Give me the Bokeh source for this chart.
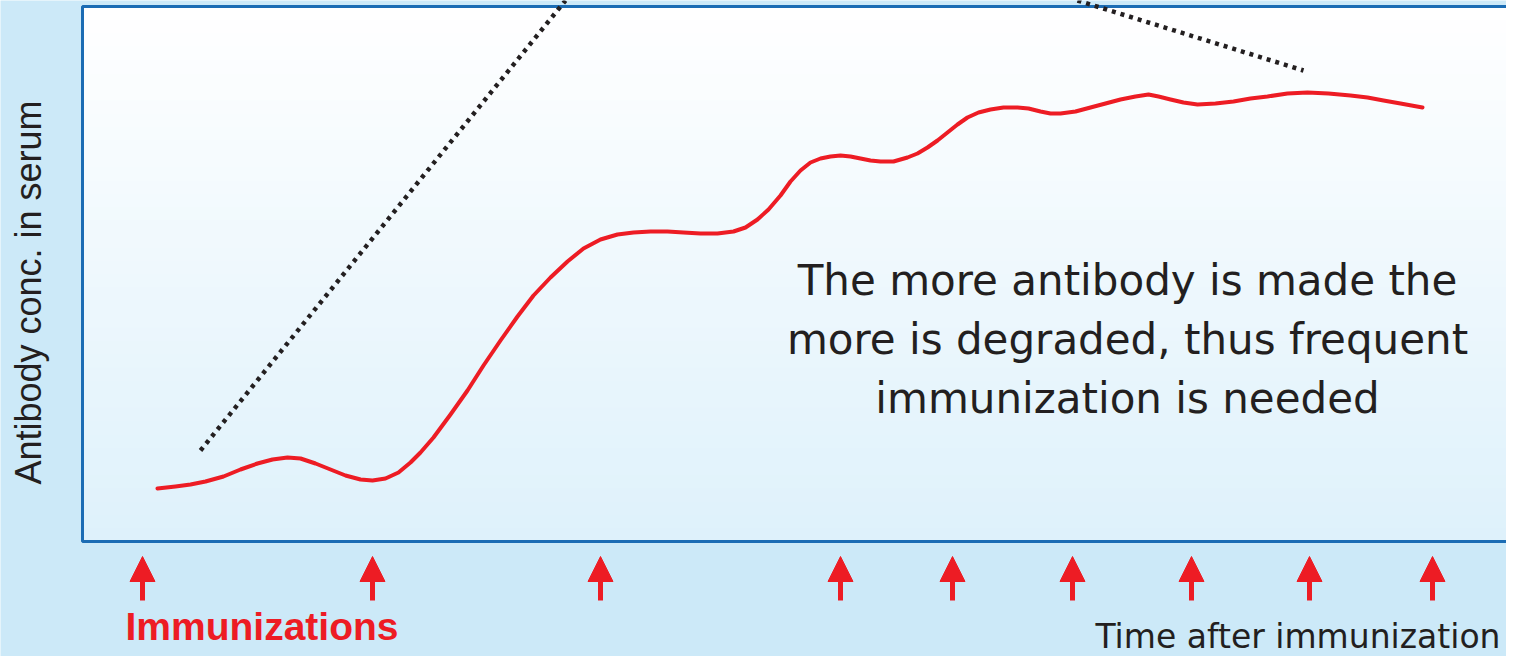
import numpy as np
from bokeh.plotting import figure
from bokeh.models import Range1d, Arrow, NormalHead, ColumnDataSource
from bokeh.core.properties import value
from bokeh.embed import file_html
from bokeh.resources import INLINE

# ---- data (time in chart units; concentration in chart units, 0 = frame bottom) ----
time = [157, 175, 190, 205, 223, 240, 257, 272, 287, 300, 315, 330, 345, 360, 372,
        385, 398, 410, 420, 433, 450, 467, 483, 500, 517, 533, 550, 567, 583, 600,
        617, 633, 650, 667, 683, 700, 717, 733, 745, 757, 768, 780, 790, 800, 810,
        820, 830, 840, 850, 860, 870, 880, 893, 907, 917, 927, 937, 947, 957, 967,
        978, 990, 1003, 1017, 1028, 1040, 1050, 1060, 1075, 1090, 1105, 1120, 1135,
        1148, 1158, 1170, 1183, 1197, 1215, 1233, 1250, 1267, 1287, 1307, 1328, 1350,
        1367, 1383, 1400, 1422]
y_ref = [488, 486, 484, 481, 476, 469, 463, 459, 457, 458, 463, 469, 475, 479, 480,
         478, 472, 462, 452, 437, 414, 390, 365, 340, 316, 295, 277, 261, 248, 239,
         234, 232, 231, 231, 232, 233, 233, 231, 227, 219, 209, 195, 181, 170, 162,
         158, 156, 155, 156, 158, 160, 161, 161, 157, 153, 147, 140, 132, 124, 117,
         112, 109, 107, 107, 108, 111, 113, 113, 111, 107, 103, 99, 96,
         94, 96, 99, 102, 104, 103, 101, 98, 96, 93, 92, 93, 95,
         97, 100, 103, 107]
conc = [542 - v for v in y_ref]

synth_time = [200, 565]
synth_conc = [92, 542]
decay_time = [1077, 1303]
decay_conc = [542, 472]

immunization_times = [142, 372, 600, 840, 952, 1072, 1191, 1309, 1432]

annotation_lines = ["The more antibody is made the",
                    "more is degraded, thus frequent",
                    "immunization is needed"]
y_label = "Antibody conc. in serum"
x_label = "Time after immunization"
imm_label = "Immunizations"

RED = "#ed1c24"
BG = "#cce9f8"
INK = "#231f20"

p = figure(width=1506, height=656, x_range=Range1d(0, 1506), y_range=Range1d(-114, 542),
           output_backend="svg", toolbar_location=None, min_border=0,
           x_axis_location=None, y_axis_location=None)
p.grid.visible = False
p.outline_line_color = None
p.background_fill_color = BG
p.border_fill_color = BG

# gradient panel (white at top to pale blue at bottom)
n = 40
edges = np.linspace(1, 536, n + 1)
top_rgb = np.array([255, 255, 255])
bot_rgb = np.array([222, 241, 251])
cols = []
for i in range(n):
    t = (i + 0.5) / n
    c = bot_rgb + (top_rgb - bot_rgb) * t
    cols.append("#%02x%02x%02x" % tuple(int(round(v)) for v in c))
tops = np.minimum(edges[1:] + 2, 536)
p.quad(left=82, right=1600, bottom=edges[:-1], top=tops, fill_color=cols, line_color=None)
p.quad(left=[82], right=[1600], bottom=[1], top=[536], fill_color=None,
       line_color="#1b6cb4", line_width=3)

# dotted lines
p.line(synth_time, synth_conc, line_color=INK, line_width=4.5, line_dash="4 5")
p.line(decay_time, decay_conc, line_color=INK, line_width=4.5, line_dash="4 5")

# antibody curve
p.line(time, conc, line_color=RED, line_width=4, line_join="round", line_cap="round")

# immunization arrows
src = ColumnDataSource(dict(x0=immunization_times, y0=[-58] * len(immunization_times),
                            x1=immunization_times, y1=[-14] * len(immunization_times)))
p.add_layout(Arrow(end=NormalHead(size=25, fill_color=RED, line_color=RED, line_width=1),
                   x_start="x0", y_start="y0", x_end="x1", y_end="y1", source=src,
                   line_color=RED, line_width=5))

# texts
p.text(x=[125], y=[-84], text=[imm_label], text_color=RED, text_font=value("Liberation Sans"),
       text_font_style="bold", text_font_size="39px", text_baseline="alphabetic", text_align="left")
p.text(x=[1500], y=[-94], text=[x_label], text_color=INK, text_font=value("DejaVu Sans"),
       text_font_size="33px", text_baseline="alphabetic", text_align="right")
p.text(x=[28], y=[250], text=[y_label], angle=np.pi / 2, text_color=INK,
       text_font=value("Liberation Sans"), text_font_size="36px",
       text_baseline="alphabetic", text_align="center")
p.text(x=[1127] * 3, y=[262, 203, 144], text=annotation_lines, text_color=INK,
       text_font=value("DejaVu Sans"), text_font_size="42px",
       text_baseline="alphabetic", text_align="center")

open("out.html", "w").write(file_html(p, INLINE))
